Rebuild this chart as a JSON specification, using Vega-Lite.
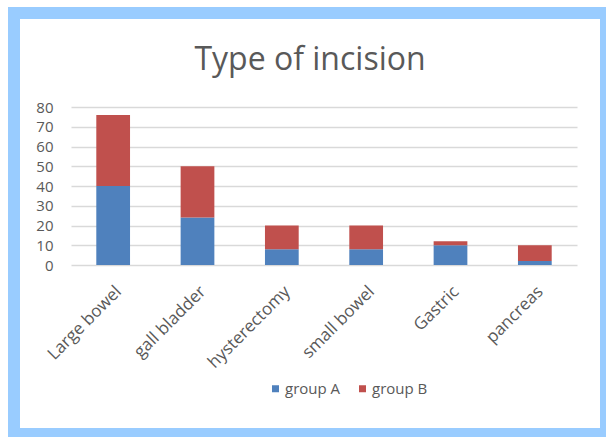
{
  "$schema": "https://vega.github.io/schema/vega-lite/v6.json",
  "width": 592,
  "height": 421,
  "autosize": {"type": "none"},
  "padding": {"left": 14, "top": 13, "right": 0, "bottom": 3},
  "background": "white",
  "view": {"fill": "white", "stroke": "#99CCFF", "strokeWidth": 12},
  "title": {
    "text": "Type of incision",
    "anchor": "middle",
    "frame": "group",
    "offset": -64,
    "fontSize": 32,
    "font": "Open Sans",
    "fontWeight": "normal",
    "color": "#595959"
  },
  "data": {
    "values": [
      {"incision": "Large bowel", "group": "group A", "count": 40},
      {"incision": "Large bowel", "group": "group B", "count": 36},
      {"incision": "gall bladder", "group": "group A", "count": 24},
      {"incision": "gall bladder", "group": "group B", "count": 26},
      {"incision": "hysterectomy", "group": "group A", "count": 8},
      {"incision": "hysterectomy", "group": "group B", "count": 12},
      {"incision": "small bowel", "group": "group A", "count": 8},
      {"incision": "small bowel", "group": "group B", "count": 12},
      {"incision": "Gastric", "group": "group A", "count": 10},
      {"incision": "Gastric", "group": "group B", "count": 2},
      {"incision": "pancreas", "group": "group A", "count": 2},
      {"incision": "pancreas", "group": "group B", "count": 8}
    ]
  },
  "mark": {"type": "bar"},
  "encoding": {
    "x": {
      "field": "incision",
      "type": "nominal",
      "sort": null,
      "scale": {"range": [57, 563], "paddingInner": 0.6, "paddingOuter": 0.3},
      "axis": {
        "title": null,
        "labelAngle": -45,
        "offset": -169,
        "domain": false,
        "ticks": false,
        "labelPadding": 18,
        "labelFontSize": 17,
        "labelFont": "Open Sans",
        "labelColor": "#595959"
      }
    },
    "y": {
      "field": "count",
      "type": "quantitative",
      "stack": "zero",
      "scale": {"domain": [0, 80], "range": [252, 94], "nice": false},
      "axis": {
        "title": null,
        "values": [0, 10, 20, 30, 40, 50, 60, 70, 80],
        "offset": -39,
        "domain": false,
        "ticks": false,
        "tickSize": 0,
        "labelPadding": 0,
        "labelFontSize": 15,
        "labelFont": "Open Sans",
        "labelColor": "#595959",
        "gridColor": "#D9D9D9",
        "gridWidth": 1.5
      }
    },
    "color": {
      "field": "group",
      "type": "nominal",
      "scale": {"range": ["#4F81BD", "#C0504D"]},
      "legend": {
        "title": null,
        "orient": "none",
        "legendX": 254,
        "legendY": 368,
        "direction": "horizontal",
        "symbolType": "square",
        "symbolSize": 49,
        "symbolStrokeWidth": 0,
        "labelOffset": 2,
        "labelFontSize": 15,
        "labelFont": "Open Sans",
        "labelColor": "#595959",
        "columnPadding": 14
      }
    },
    "order": {"field": "group", "sort": "ascending"}
  }
}
